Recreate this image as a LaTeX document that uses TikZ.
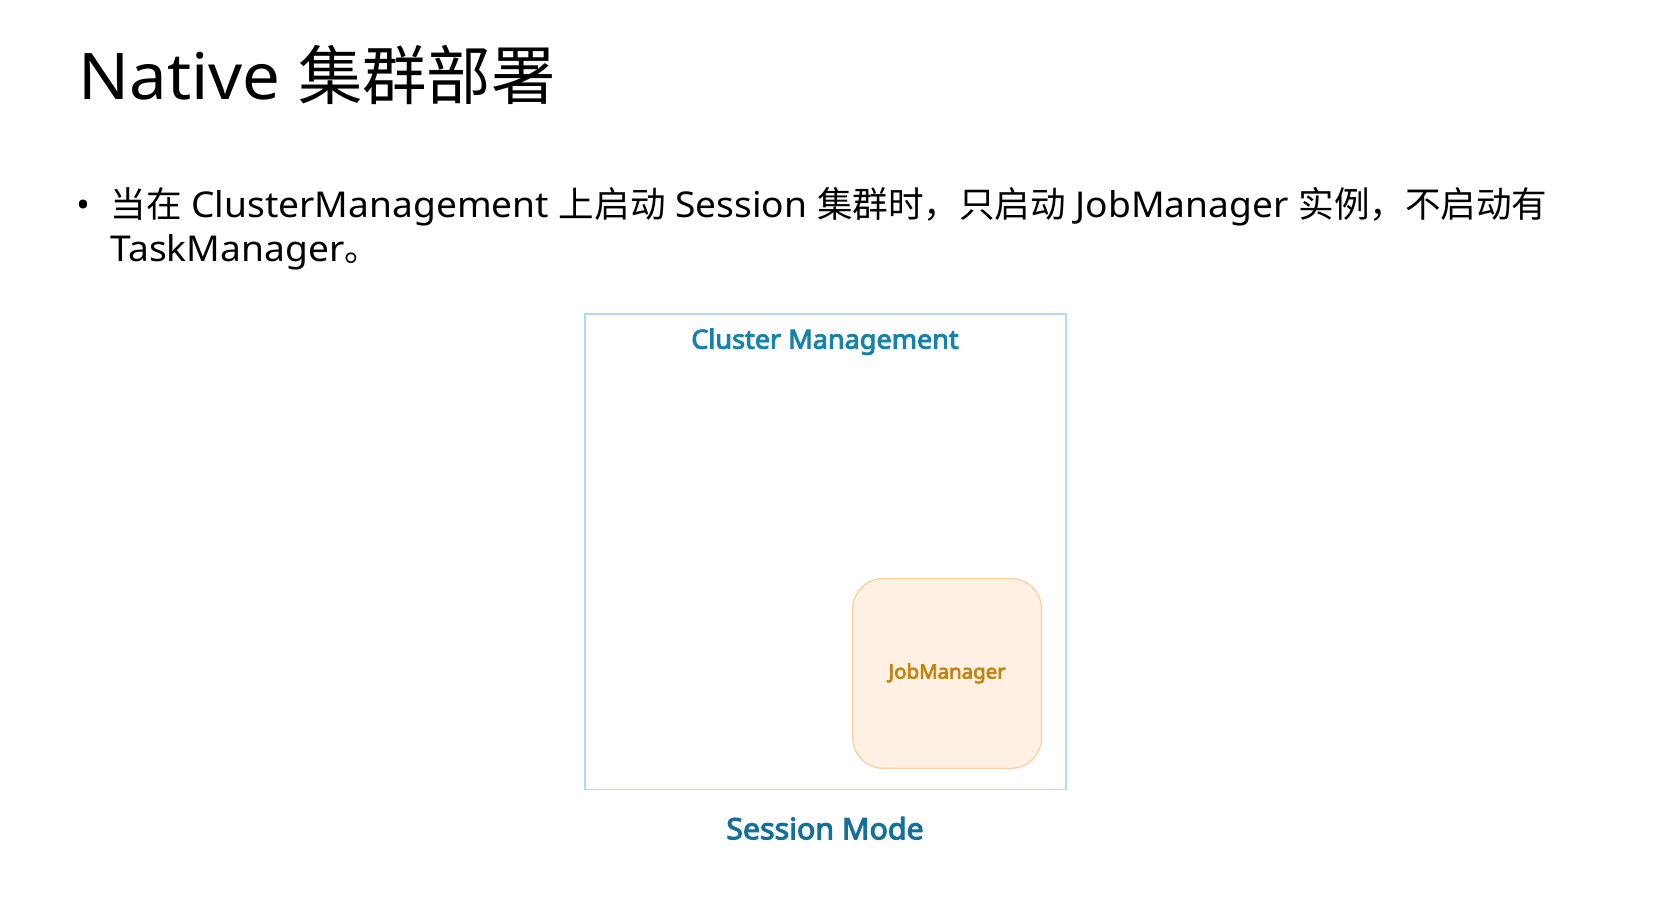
\documentclass[tikz,border=0pt]{standalone}
\usepackage{fontspec}
\setmainfont{Noto Sans}[FakeStretch=1.045]
\newfontfamily\cjk{Noto Sans CJK SC}
\newfontfamily\labelfont{Noto Sans}[FakeBold=3.5,FakeStretch=1.03]
\usetikzlibrary{positioning}
\definecolor{clusterline}{HTML}{B2D8F2}
\definecolor{clustertext}{HTML}{1682AE}
\definecolor{modetext}{HTML}{14709A}
\definecolor{jmfill}{HTML}{FFF0E4}
\definecolor{jmline}{HTML}{FAD0A2}
\definecolor{jmtext}{HTML}{C4830F}
\begin{document}
\begin{tikzpicture}[x=1pt,y=-1pt,
    heading/.style={anchor=base west,inner sep=0pt,font=\fontsize{60}{72}\selectfont},
    body/.style={anchor=base west,inner sep=0pt,font=\fontsize{33.2}{41}\selectfont},
    label/.style={inner sep=0pt,font=\labelfont\fontsize{24.5}{28}\selectfont,text=clustertext},
    jobbox/.style={draw=jmline,fill=jmfill,line width=1.2,rounded corners=28,
      minimum width=176,minimum height=177,font=\labelfont\fontsize{18.5}{22}\selectfont,text=jmtext}]
  \useasboundingbox (0,0) rectangle (1568,844);
  % heading and bullet text
  \node[heading] (title) at (73,93) {Native {\cjk 集群部署}};
  \node[body] (dot) at (71,203) {•};
  \node[body] (line1) at (103,203)
    {{\cjk 当在} ClusterManagement {\cjk 上启动} Session {\cjk 集群时，只启动} JobManager {\cjk 实例，不启动有}};
  \node[body] (line2) at (103,244) {TaskManager{\cjk 。}};
  % diagram
  \node[draw=clusterline,line width=1.2,minimum width=449,minimum height=444] (cluster) at (770.5,515) {};
  \node[label] (cm) at (770,319) {Cluster Management};
  \node[jobbox] (jm) at (884,628.5) {JobManager};
  \node[label,font=\labelfont\fontsize{27.5}{33}\selectfont,text=modetext] (mode) at (770,773) {Session Mode};
\end{tikzpicture}
\end{document}
